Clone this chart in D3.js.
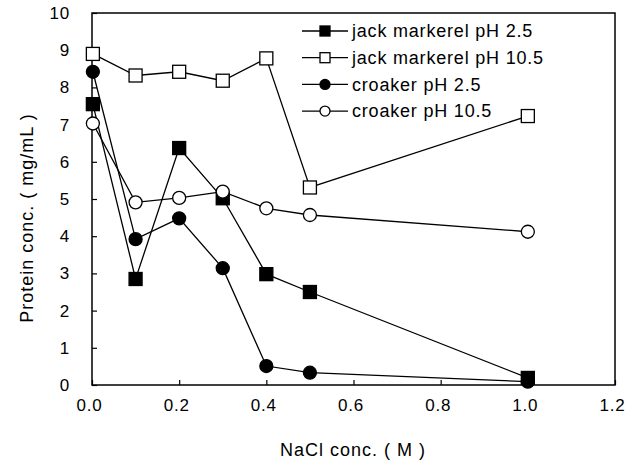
<!DOCTYPE html>
<html>
<head>
<meta charset="utf-8">
<script src="https://cdn.jsdelivr.net/npm/d3@7"></script>
<style>
  body { margin: 0; background: #fff; }
  svg { display: block; font-family: "Liberation Sans", Arial, sans-serif; }
</style>
</head>
<body>
<div id="chart"></div>
<script>
// NaCl concentration (M)
const nacl = [0.002, 0.1, 0.2, 0.3, 0.4, 0.5, 1.0];

// protein concentration (mg/mL) per series
const jackPH25 = [7.55, 2.85, 6.37, 5.02, 2.98, 2.5, 0.19];
const jackPH105 = [8.9, 8.32, 8.42, 8.18, 8.78, 5.31, 7.23];
const croakerPH25 = [8.42, 3.92, 4.48, 3.14, 0.51, 0.33, 0.09];
const croakerPH105 = [7.03, 4.91, 5.03, 5.2, 4.75, 4.57, 4.12];

const seriesNames = ["jack markerel pH 2.5", "jack markerel pH 10.5", "croaker pH 2.5", "croaker pH 10.5"];
const xTicks = [0, 0.2, 0.4, 0.6, 0.8, 1.0, 1.2];
const yTicks = [0, 1, 2, 3, 4, 5, 6, 7, 8, 9, 10];

const series = [
    { name: seriesNames[0], values: jackPH25, shape: "square", filled: true },
    { name: seriesNames[1], values: jackPH105, shape: "square", filled: false },
    { name: seriesNames[2], values: croakerPH25, shape: "circle", filled: true },
    { name: seriesNames[3], values: croakerPH105, shape: "circle", filled: false }
];

const width = 639, height = 468;
const margin = { top: 13, right: 24, bottom: 83, left: 92 };
const chartWidth = width - margin.left - margin.right;
const chartHeight = height - margin.top - margin.bottom;

const svg = d3.select("#chart")
    .append("svg")
    .attr("width", width)
    .attr("height", height);

const g = svg.append("g")
    .attr("transform", `translate(${margin.left},${margin.top})`);

const xScale = d3.scaleLinear().domain([0, 1.2]).range([0, chartWidth]);
const yScale = d3.scaleLinear().domain([0, 10]).range([chartHeight, 0]);

// frame
g.append("rect")
    .attr("x", 0)
    .attr("y", 0)
    .attr("width", chartWidth)
    .attr("height", chartHeight)
    .attr("fill", "none")
    .attr("stroke", "#000")
    .attr("stroke-width", 1.5);

// axes with inward ticks
const xAxis = g.append("g")
    .attr("transform", `translate(0,${chartHeight})`)
    .call(d3.axisBottom(xScale).tickValues(xTicks).tickSize(-5).tickPadding(14).tickFormat(d3.format(".1f")));
xAxis.select(".domain").remove();
xAxis.selectAll("line").attr("stroke", "#000").attr("stroke-width", 1.2);
xAxis.selectAll("text")
    .attr("fill", "#000")
    .attr("dx", -3)
    .style("font-size", "17px")
    .style("letter-spacing", "0.8px");

const yAxis = g.append("g")
    .call(d3.axisLeft(yScale).tickValues(yTicks).tickSize(-5).tickPadding(22));
yAxis.select(".domain").remove();
yAxis.selectAll("line").attr("stroke", "#000").attr("stroke-width", 1.2);
yAxis.selectAll("text")
    .attr("fill", "#000")
    .style("font-size", "17px")
    .style("letter-spacing", "0.8px");

// axis titles
svg.append("text")
    .attr("x", 353)
    .attr("y", 456)
    .attr("text-anchor", "middle")
    .style("font-size", "18px")
    .style("letter-spacing", "1px")
    .text("NaCl conc. ( M )");

svg.append("text")
    .attr("transform", "translate(33,218) rotate(-90)")
    .attr("text-anchor", "middle")
    .style("font-size", "18px")
    .style("letter-spacing", "1px")
    .text("Protein conc. ( mg/mL )");

const line = d3.line()
    .x((d, i) => xScale(nacl[i]))
    .y(d => yScale(d));

function drawMarker(sel, s, size) {
    if (s.shape === "square") {
        sel.append("rect")
            .attr("x", -size / 2)
            .attr("y", -size / 2)
            .attr("width", size)
            .attr("height", size)
            .attr("fill", s.filled ? "#000" : "#fff")
            .attr("stroke", "#000")
            .attr("stroke-width", 1.3);
    } else {
        sel.append("circle")
            .attr("r", size / 2)
            .attr("fill", s.filled ? "#000" : "#fff")
            .attr("stroke", "#000")
            .attr("stroke-width", 1.3);
    }
}

// series lines and markers
series.forEach(s => {
    g.append("path")
        .datum(s.values)
        .attr("d", line)
        .attr("fill", "none")
        .attr("stroke", "#000")
        .attr("stroke-width", 1.3);

    s.values.forEach((v, i) => {
        const m = g.append("g")
            .attr("transform", `translate(${xScale(nacl[i])},${yScale(v)})`);
        drawMarker(m, s, 13);
    });
});

// legend
const legend = g.append("g")
    .attr("transform", `translate(${302 - margin.left},${31 - margin.top})`);

series.forEach((s, i) => {
    const row = legend.append("g")
        .attr("transform", `translate(0,${i * 26.7})`);
    row.append("line")
        .attr("x1", 0)
        .attr("x2", 46)
        .attr("stroke", "#000")
        .attr("stroke-width", 1.3);
    const m = row.append("g").attr("transform", "translate(23,0)");
    drawMarker(m, s, 10);
    row.append("text")
        .attr("x", 50)
        .attr("dy", "0.35em")
        .style("font-size", "18px")
        .style("letter-spacing", "0.8px")
        .text(s.name);
});
</script>
</body>
</html>
